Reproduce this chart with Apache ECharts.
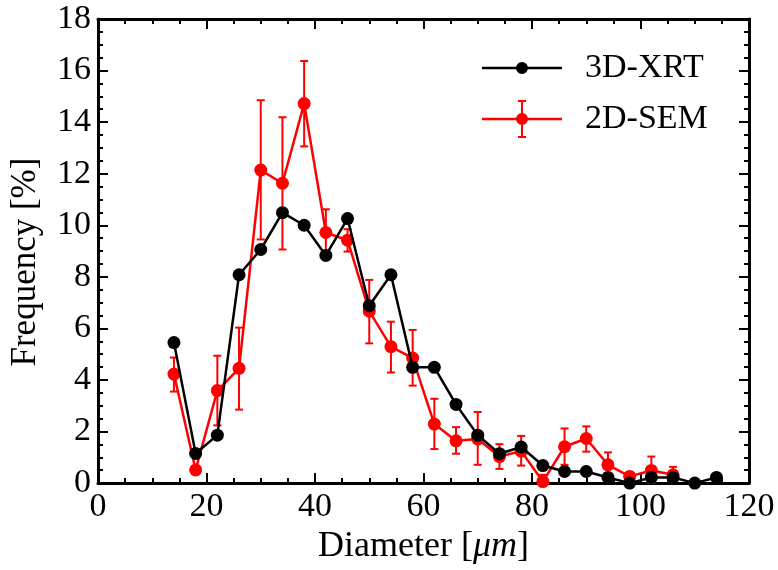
<!DOCTYPE html>
<html>
<head>
<meta charset="utf-8">
<script src="https://cdn.jsdelivr.net/npm/echarts@6/dist/echarts.min.js"></script>
<style>html,body{margin:0;padding:0;background:#fff}#c{width:778px;height:570px}</style>
</head>
<body>
<div id="c"></div>
<script>
const xrtDiameter = [14,18,22,26,30,34,38,42,46,50,54,58,62,66,70,74,78,82,86,90,94,98,102,106,110,114];
const xrtFreq = [5.45,1.15,1.86,8.08,9.06,10.49,10.0,8.83,10.26,6.88,8.08,4.49,4.49,3.05,1.86,1.14,1.40,0.68,0.45,0.45,0.22,0.0,0.22,0.22,0.0,0.22];
const semDiameter = [14,18,22,26,30,34,38,42,46,50,54,58,62,66,70,74,78,82,86,90,94,98,102,106];
const semFreq = [4.23,0.51,3.59,4.45,12.14,11.63,14.72,9.72,9.42,6.67,5.29,4.85,2.29,1.64,1.71,1.03,1.24,0.06,1.41,1.73,0.71,0.26,0.49,0.32];
const semLow  = [3.55,0.51,2.24,2.85,9.45,9.06,13.06,8.85,8.98,5.42,4.29,3.78,1.32,1.14,0.71,0.55,0.68,0.0,0.71,1.22,0.19,0.12,0.0,0.05];
const semHigh = [4.87,0.51,4.94,6.03,14.85,14.19,16.37,10.62,9.85,7.88,6.26,5.94,3.27,2.17,2.76,1.51,1.83,0.32,2.12,2.20,1.19,0.40,1.03,0.63];
const xTicks = {min:0, max:120, interval:20};
const yTicks = {min:0, max:18, interval:2};

const FONT = 'Liberation Serif';
const chart = echarts.init(document.getElementById('c'), null, {renderer:'canvas'});

function axisCommon(showLabel){
  return {
    axisLine:{show:true, onZero:false, lineStyle:{color:'#000', width:3}},
    axisTick:{show:true, inside:true, length:10, lineStyle:{color:'#000', width:2}},
    minorTick:{show:true, splitNumber:4, length:5, lineStyle:{color:'#000', width:2}},
    splitLine:{show:false},
    axisLabel:{show:showLabel, color:'#000', fontFamily:FONT, fontSize:34, margin:7}
  };
}

const blackIcon = 'path://M0,17.75 H80 V20.25 H0 Z M34,19 A6,6 0 1,1 46,19 A6,6 0 1,1 34,19 Z';
const redIcon = 'path://M0,0 M80,38 M0,17.75 H80 V20.25 H0 Z M34,19 A6,6 0 1,1 46,19 A6,6 0 1,1 34,19 Z M39,0 H41 V38 H39 Z M36,0 H44 V2 H36 Z M36,36 H44 V38 H36 Z';

const option = {
  animation:false,
  backgroundColor:'#fff',
  grid:{left:97, right:29, top:19, bottom:84, containLabel:false},
  xAxis:[
    Object.assign({type:'value', position:'bottom', min:xTicks.min, max:xTicks.max, interval:xTicks.interval,
      name:'Diameter [{i|μm}]', nameLocation:'middle', nameGap:43,
      nameTextStyle:{color:'#000', fontFamily:FONT, fontSize:36,
        rich:{i:{fontFamily:FONT, fontStyle:'italic', fontSize:36, color:'#000'}}}}, axisCommon(true)),
    Object.assign({type:'value', position:'top', min:xTicks.min, max:xTicks.max, interval:xTicks.interval}, axisCommon(false))
  ],
  yAxis:[
    Object.assign({type:'value', position:'left', min:yTicks.min, max:yTicks.max, interval:yTicks.interval,
      name:'Frequency [%]', nameLocation:'middle', nameGap:55, nameRotate:90,
      nameTextStyle:{color:'#000', fontFamily:FONT, fontSize:35, padding:[0,22,0,0]}}, axisCommon(true)),
    Object.assign({type:'value', position:'right', min:yTicks.min, max:yTicks.max, interval:yTicks.interval}, axisCommon(false))
  ],
  legend:{
    orient:'vertical', left:477, top:46, itemWidth:80, itemHeight:38, itemGap:15,
    symbolKeepAspect:true,
    textStyle:{color:'#000', fontFamily:FONT, fontSize:34, padding:[0,0,0,18]},
    itemStyle:{borderWidth:0},
    data:[{name:'3D-XRT', icon:blackIcon, itemStyle:{color:'#000'}}, {name:'2D-SEM', icon:redIcon, itemStyle:{color:'#ff0000'}}]
  },
  series:[
    {
      type:'custom', name:'semErr', z:3,
      data: semDiameter.map((d,i)=>[d, semLow[i], semHigh[i]]),
      encode:{x:0, y:[1,2]},
      renderItem:(params, api)=>{
        const x = api.value(0);
        const lo = api.coord([x, api.value(1)]);
        const hi = api.coord([x, api.value(2)]);
        const hw = 4;
        const style = {stroke:'#ff0000', lineWidth:2, fill:null};
        return {type:'group', children:[
          {type:'line', shape:{x1:lo[0], y1:lo[1], x2:hi[0], y2:hi[1]}, style:style},
          {type:'line', shape:{x1:hi[0]-hw, y1:hi[1], x2:hi[0]+hw, y2:hi[1]}, style:style},
          {type:'line', shape:{x1:lo[0]-hw, y1:lo[1], x2:lo[0]+hw, y2:lo[1]}, style:style}
        ]};
      }
    },
    {
      type:'line', name:'2D-SEM', z:4,
      data: semDiameter.map((d,i)=>[d, semFreq[i]]),
      symbol:'circle', symbolSize:13, showAllSymbol:true,
      lineStyle:{color:'#ff0000', width:2.5},
      itemStyle:{color:'#ff0000', borderWidth:0}
    },
    {
      type:'line', name:'3D-XRT', z:5,
      data: xrtDiameter.map((d,i)=>[d, xrtFreq[i]]),
      symbol:'circle', symbolSize:13, showAllSymbol:true,
      lineStyle:{color:'#000', width:2.5},
      itemStyle:{color:'#000', borderWidth:0}
    }
  ]
};
chart.setOption(option);
</script>
</body>
</html>
